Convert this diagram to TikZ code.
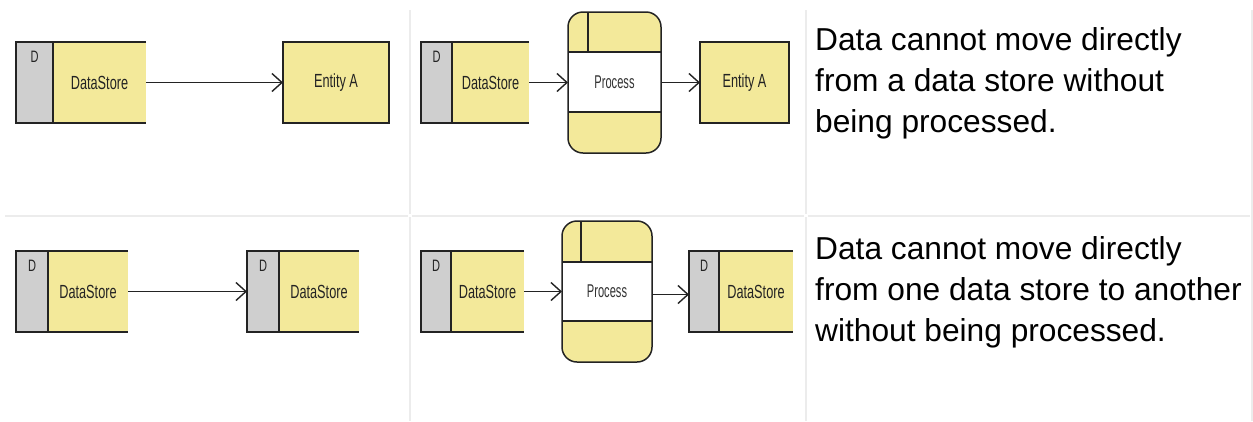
\documentclass[tikz,border=0pt]{standalone}
\usepackage{fontspec}
\setmainfont{Liberation Sans}
\newfontfamily\narrowfont[FakeStretch=0.67]{Liberation Sans}
\newfontfamily\slimfont[FakeStretch=0.6]{Liberation Sans}
\usetikzlibrary{arrows.meta}

\definecolor{storeyellow}{RGB}{243,233,154}
\definecolor{storegray}{RGB}{207,207,207}
\definecolor{gridgray}{RGB}{236,236,236}
\definecolor{inkgray}{RGB}{35,35,35}

\tikzset{
  outline/.style={draw=inkgray, line width=1.5pt},
  gridline/.style={draw=gridgray, line width=2pt},
  shapetext/.style={font=\narrowfont\fontsize{19}{19}\selectfont, text=inkgray, inner sep=0pt},
  proctext/.style={font=\slimfont\fontsize{18.5}{18.5}\selectfont, text=black!80, inner sep=0pt},
  tagtext/.style={font=\narrowfont\fontsize{16.5}{16.5}\selectfont, text=inkgray, inner sep=0pt},
  boxarea/.style={inner sep=0pt, outer sep=0pt},
  flow/.style={draw=inkgray, line width=1.6pt, -{Straight Barb[length=10pt,width=18pt,line width=1.4pt]}},
  ruletext/.style={font=\fontsize{31.7}{41}\selectfont, align=left, anchor=north west, inner sep=0pt},
}

% data store: name, left x, split x, right x, top y, bottom y
\newcommand\datastore[6]{%
  \fill[storegray] (#2,#5) rectangle (#3,#6);
  \fill[storeyellow] (#3,#5) rectangle (#4,#6);
  \draw[outline] (#4,#5) -- (#2,#5) -- (#2,#6) -- (#4,#6);
  \draw[outline] (#3,#5) -- (#3,#6);
  \node[boxarea, minimum width={#4-#2}, minimum height={#6-#5}] (#1) at ({(#2+#4)/2},{(#5+#6)/2}) {};
  \node[tagtext] (#1-tag) at ({(#2+#3)/2},{#5+15}) {D};
  \node[shapetext] (#1-label) at ({(#3+#4)/2},{(#5+#6)/2}) {DataStore};
}

% external entity: name, left x, right x, top y, bottom y, text
\newcommand\entity[6]{%
  \node[boxarea, outline, fill=storeyellow, minimum width={#3-#2}, minimum height={#5-#4}] (#1) at ({(#2+#3)/2},{(#4+#5)/2}) {};
  \node[shapetext] (#1-label) at (#1.center) {#6};
}

% process: name, left x, right x, top y, bottom y, band top, band bottom, id divider x
\newcommand\process[8]{%
  \fill[storeyellow, rounded corners=15pt] (#2,#4) rectangle (#3,#5);
  \fill[white] (#2,#6) rectangle (#3,#7);
  \draw[outline, rounded corners=15pt] (#2,#4) rectangle (#3,#5);
  \draw[outline] (#2,#6) -- (#3,#6) (#2,#7) -- (#3,#7) (#8,#4) -- (#8,#6);
  \node[boxarea, minimum width={#3-#2}, minimum height={#5-#4}] (#1) at ({(#2+#3)/2},{(#4+#5)/2}) {};
  \node[proctext] (#1-label) at (#1.center) {Process};
}

\begin{document}
\begin{tikzpicture}[x=1pt, y=-1pt]
  \useasboundingbox (0,0) rectangle (1253,421);

  % table rules
  \draw[gridline] (5,215.5) -- (408,215.5) (412,215.5) -- (804,215.5) (808,215.5) -- (1250,215.5);
  \draw[gridline] (410,10) -- (410,214) (410,217) -- (410,421);
  \draw[gridline] (806,10) -- (806,214) (806,217) -- (806,421);
  \draw[gridline] (1252,10) -- (1252,421);

  % row 1, left: data store straight to entity
  \datastore{ds1}{16}{53}{146}{42}{123}
  \entity{ent1}{283}{389}{42}{123}{Entity A}
  \draw[flow] (ds1.east) -- (ent1.west);

  % row 1, middle: data store through a process to entity
  \datastore{ds2}{421}{452}{529}{42}{123}
  \process{proc1}{568}{661}{12}{153}{52}{112}{588}
  \entity{ent2}{700}{789}{42}{123}{Entity A}
  \draw[flow] (ds2.east) -- (proc1.west);
  \draw[flow] (proc1.east) -- (ent2.west);

  % row 2, left: data store straight to data store
  \datastore{ds3}{16}{48}{128}{251}{332}
  \datastore{ds4}{247}{279}{359}{251}{332}
  \draw[flow] (ds3.east) -- (ds4.west);

  % row 2, middle: data store through a process to data store
  \datastore{ds5}{421}{451}{524}{251}{332}
  \process{proc2}{562}{652}{221}{362}{262}{321}{581}
  \datastore{ds6}{689}{719}{793}{251}{332}
  \draw[flow] (ds5.east) -- (proc2.west);
  \draw[flow] ([yshift=-3pt]proc2.east) -- ([yshift=-3pt]ds6.west);

  % rule descriptions
  \node[ruletext] (rule1) at (815,27) {Data cannot move directly\\from a data store without\\being processed.};
  \node[ruletext] (rule2) at (815,236) {Data cannot move directly\\from one data store to another\\without being processed.};
\end{tikzpicture}
\end{document}
